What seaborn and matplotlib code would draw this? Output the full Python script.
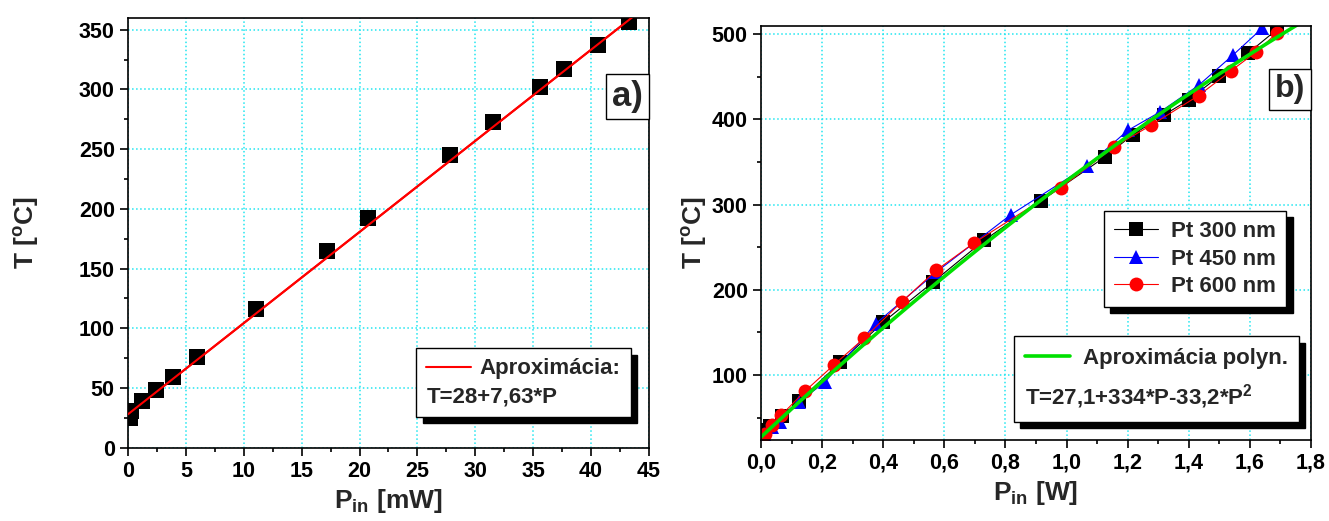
import numpy as np
import matplotlib
matplotlib.use('Agg')
import matplotlib.pyplot as plt
import seaborn as sns
from matplotlib.ticker import MultipleLocator, FuncFormatter

# a) teplota vs. prikon [mW]
p_a = [0.2, 0.3, 1.2, 2.4, 3.9, 6.0, 11.1, 17.2, 20.7, 27.8, 31.5, 35.6, 37.7, 40.6, 43.3]
t_a = [25, 31, 39, 48, 59, 76, 116, 165, 192, 245, 273, 302, 317, 337, 356]
fit_a = [28, 7.63]          # T = a0 + a1*P

# b) tri hrubky Pt, prikon [W]
p_300 = [0.008, 0.03, 0.07, 0.126, 0.26, 0.40, 0.563, 0.73, 0.915, 1.126, 1.216, 1.318, 1.40, 1.50, 1.595, 1.69]
t_300 = [35, 40, 52, 70, 115, 162, 209, 258, 304, 356, 382, 405, 423, 451, 478, 506]
p_450 = [0.01, 0.035, 0.063, 0.124, 0.21, 0.375, 0.574, 0.817, 1.066, 1.20, 1.307, 1.432, 1.546, 1.64]
t_450 = [31, 39, 45, 68, 92, 160, 221, 288, 345, 387, 409, 440, 476, 507]
p_600 = [0.014, 0.035, 0.067, 0.144, 0.239, 0.337, 0.461, 0.574, 0.697, 0.982, 1.156, 1.276, 1.432, 1.538, 1.62, 1.69]
t_600 = [31, 41, 53, 81, 112, 143, 186, 223, 255, 320, 368, 393, 428, 457, 479, 502]
fit_b = [27.1, 334, -33.2]  # T = b0 + b1*P + b2*P^2

sns.set_theme(style='ticks')
plt.rcParams['font.family'] = ['Liberation Sans', 'DejaVu Sans']
plt.rcParams['font.weight'] = 'bold'
plt.rcParams['mathtext.fontset'] = 'custom'
plt.rcParams['mathtext.rm'] = 'Liberation Sans:bold'
plt.rcParams['mathtext.it'] = 'Liberation Sans:bold'
plt.rcParams['mathtext.bf'] = 'Liberation Sans:bold'
plt.rcParams['mathtext.default'] = 'rm'

fig = plt.figure(figsize=(13.29, 5.21), dpi=100)
ax1 = fig.add_axes([0.0963, 0.1407, 0.392, 0.8253])
ax2 = fig.add_axes([0.5726, 0.156, 0.4139, 0.7947])

grid_c = '#22e6f0'
shadow = {'color': 'black', 'alpha': 1, 'ox': 4.5, 'oy': -4.5}


def style_axes(ax):
    for s in ax.spines.values():
        s.set_color('black')
        s.set_linewidth(1.2)
    ax.grid(True, which='major', color=grid_c, linestyle=':', linewidth=1.1)
    ax.set_axisbelow(True)
    ax.tick_params(which='both', direction='out', color='black', width=1.2,
                   labelsize=15.5, labelcolor='black')
    ax.tick_params(which='major', length=6)
    ax.tick_params(which='minor', length=3)


# ---- a) ----
style_axes(ax1)
xa = np.linspace(0, 45, 100)
sns.lineplot(x=xa, y=fit_a[0] + fit_a[1] * xa, ax=ax1, color='#ff0000', linewidth=1.5)
fit_line_a = ax1.lines[-1]
sns.scatterplot(x=p_a, y=t_a, ax=ax1, marker='s', color='black', s=130,
                edgecolor='black', linewidth=0, zorder=3)
ax1.plot(xa, fit_a[0] + fit_a[1] * xa, color='#ff0000', linewidth=1.5, zorder=4)
ax1.set_xlim(0, 45)
ax1.set_ylim(0, 360)
ax1.xaxis.set_major_locator(MultipleLocator(5))
ax1.xaxis.set_minor_locator(MultipleLocator(2.5))
ax1.yaxis.set_major_locator(MultipleLocator(50))
ax1.yaxis.set_minor_locator(MultipleLocator(25))
ax1.set_xlabel(r'P$_\mathrm{in}$ [mW]', fontsize=19, fontweight='bold', labelpad=4)
ax1.set_ylabel(r'T [$^\mathrm{o}$C]', fontsize=19, fontweight='bold', labelpad=27)

leg = ax1.legend([fit_line_a], ['Aproximácia:'], title='T=28+7,63*P', alignment='left',
                 loc='lower right', bbox_to_anchor=(0.965, 0.071), borderaxespad=0,
                 fontsize=16, title_fontsize=16, frameon=True, fancybox=False,
                 shadow=shadow, handlelength=2.0, handletextpad=0.4, borderpad=0.45,
                 labelspacing=0.3, edgecolor='black', framealpha=1)
leg.get_frame().set_linewidth(1.0)
leg._legend_box._children.reverse()

ax1.text(0.988, 0.817, 'a)', transform=ax1.transAxes, ha='right', va='center',
         fontsize=25, fontweight='bold',
         bbox=dict(boxstyle='square,pad=0.18', fc='white', ec='black', lw=1.0))

# ---- b) ----
style_axes(ax2)
series = [(p_300, t_300, 's', 'black', 'Pt 300 nm'),
          (p_450, t_450, '^', '#0000ff', 'Pt 450 nm'),
          (p_600, t_600, 'o', '#ff0000', 'Pt 600 nm')]
handles = []
for px, ty, m, c, lab in series:
    sns.lineplot(x=px, y=ty, ax=ax2, estimator=None, sort=False, color=c, linewidth=0.8,
                 marker=m, markersize=10, markeredgewidth=0, markerfacecolor=c)
    handles.append(ax2.lines[-1])
xb = np.linspace(0, 1.8, 100)
sns.lineplot(x=xb, y=fit_b[0] + fit_b[1] * xb + fit_b[2] * xb ** 2, ax=ax2,
             color='#00e000', linewidth=2.6)
fit_line_b = ax2.lines[-1]
ax2.set_xlim(0, 1.8)
ax2.set_ylim(24, 510)
ax2.xaxis.set_major_locator(MultipleLocator(0.2))
ax2.xaxis.set_minor_locator(MultipleLocator(0.1))
ax2.yaxis.set_major_locator(MultipleLocator(100))
ax2.yaxis.set_minor_locator(MultipleLocator(50))
ax2.xaxis.set_major_formatter(FuncFormatter(lambda v, _: f'{v:.1f}'.replace('.', ',')))
ax2.set_xlabel(r'P$_\mathrm{in}$ [W]', fontsize=19, fontweight='bold', labelpad=4)
ax2.set_ylabel(r'T [$^\mathrm{o}$C]', fontsize=19, fontweight='bold', labelpad=2)

leg1 = ax2.legend(handles, [s[4] for s in series], loc='lower right',
                  bbox_to_anchor=(0.955, 0.32), borderaxespad=0, fontsize=16,
                  frameon=True, fancybox=False, shadow=shadow, handlelength=2.0,
                  handletextpad=0.6, borderpad=0.45, labelspacing=0.3,
                  edgecolor='black', framealpha=1)
leg1.get_frame().set_linewidth(1.0)
ax2.add_artist(leg1)

leg2 = ax2.legend([fit_line_b], ['Aproximácia polyn.'], title=r'T=27,1+334*P-33,2*P$^2$',
                  alignment='left', loc='lower right', bbox_to_anchor=(0.978, 0.043),
                  borderaxespad=0, fontsize=16, title_fontsize=16, frameon=True,
                  fancybox=False, shadow=shadow, handlelength=2.0, handletextpad=0.6,
                  borderpad=0.5, labelspacing=0.6, edgecolor='black', framealpha=1)
leg2.get_frame().set_linewidth(1.0)
leg2._legend_box._children.reverse()

ax2.text(0.99, 0.846, 'b)', transform=ax2.transAxes, ha='right', va='center',
         fontsize=23, fontweight='bold',
         bbox=dict(boxstyle='square,pad=0.18', fc='white', ec='black', lw=1.0))

fig.savefig('out.png', dpi=100)
